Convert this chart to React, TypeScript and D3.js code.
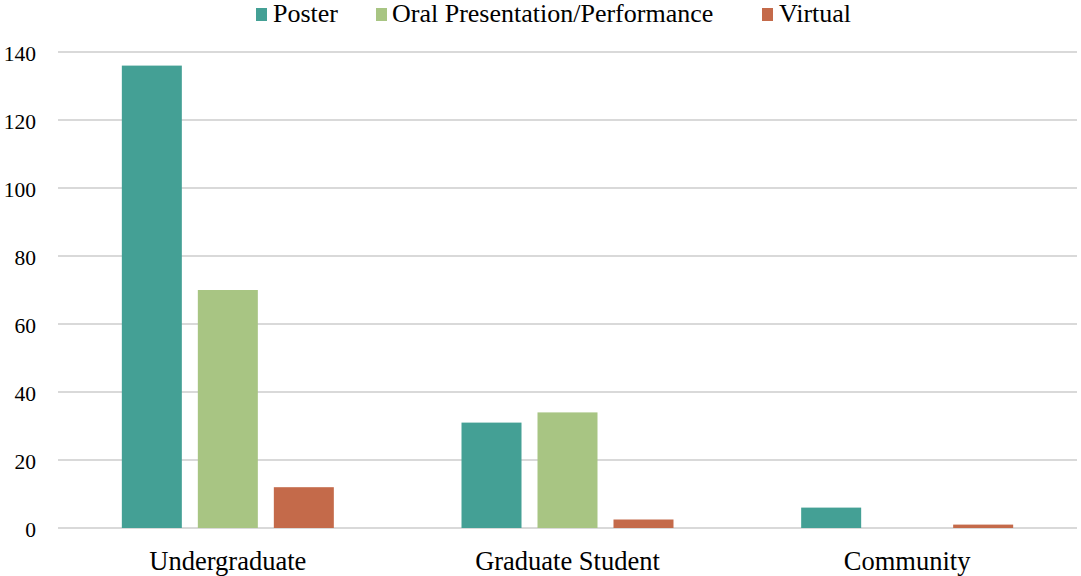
import React from "react";
import * as d3 from "d3";

const categories = ["Undergraduate", "Graduate Student", "Community"];
const seriesNames = ["Poster", "Oral Presentation/Performance", "Virtual"];
const poster = [136, 31, 6];
const oral = [70, 34, 0];
const virtual = [12, 2.5, 1];
const yTicks = [0, 20, 40, 60, 80, 100, 120, 140];
const colors = ["#44a095", "#a8c583", "#c46a4a"];

const W = 1081;
const H = 576;
const margin = { left: 58, right: 4, top: 52, bottom: 48 };

export default function App() {
  const values = [poster, oral, virtual];
  const x = d3
    .scaleBand<string>()
    .domain(categories)
    .range([margin.left, W - margin.right])
    .paddingInner(0)
    .paddingOuter(0);
  const inner = d3
    .scaleBand<string>()
    .domain(seriesNames)
    .range([0, x.bandwidth()])
    .paddingInner(0.2105)
    .paddingOuter(0.84);
  const y = d3.scaleLinear().domain([0, 140]).range([H - margin.bottom, margin.top]);

  const font = "'Liberation Serif', 'Times New Roman', serif";
  const legendItems = [
    { x: 256, tx: 273, name: seriesNames[0], c: colors[0] },
    { x: 376, tx: 392, name: seriesNames[1], c: colors[1] },
    { x: 762, tx: 779, name: seriesNames[2], c: colors[2] },
  ];

  return (
    <svg
      width={W}
      height={H}
      style={{ position: "absolute", left: 0, top: 0, background: "#fff" }}
      fontFamily={font}
    >
      {yTicks.map((t) => (
        <g key={t}>
          <line
            x1={margin.left}
            x2={W - margin.right}
            y1={y(t)}
            y2={y(t)}
            stroke="#d9d9d9"
            strokeWidth={2}
          />
          <text x={36} y={y(t) + 8.5} textAnchor="end" fontSize={21.5} fill="#000">
            {t}
          </text>
        </g>
      ))}
      {categories.map((cat, ci) => (
        <g key={cat} transform={`translate(${x(cat)},0)`}>
          {seriesNames.map((s, si) => {
            const v = values[si][ci];
            if (v <= 0) return null;
            return (
              <rect
                key={s}
                x={inner(s)}
                y={y(v)}
                width={inner.bandwidth()}
                height={y(0) - y(v)}
                fill={colors[si]}
              />
            );
          })}
          <text
            x={x.bandwidth() / 2}
            y={569.5}
            textAnchor="middle"
            fontSize={26.5}
            fill="#000"
          >
            {cat}
          </text>
        </g>
      ))}
      {legendItems.map((it) => (
        <g key={it.name}>
          <rect x={it.x} y={8} width={11} height={13} fill={it.c} />
          <text x={it.tx} y={22} fontSize={26} fill="#000">
            {it.name}
          </text>
        </g>
      ))}
    </svg>
  );
}
